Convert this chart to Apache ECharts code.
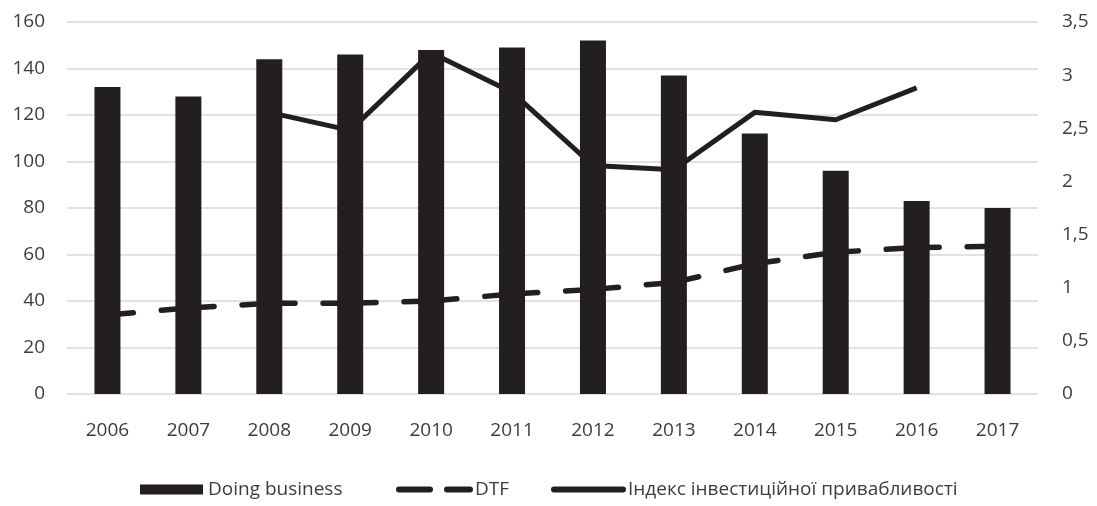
<!DOCTYPE html>
<html>
<head>
<meta charset="utf-8">
<script src="https://cdn.jsdelivr.net/npm/echarts@6/dist/echarts.min.js"></script>
<style>
  html, body { margin: 0; padding: 0; background: #ffffff; }
  #chart { width: 1097px; height: 506px; }
</style>
</head>
<body>
<div id="chart"></div>
<script>
// Years on the category axis
const years = ['2006', '2007', '2008', '2009', '2010', '2011', '2012', '2013', '2014', '2015', '2016', '2017'];
// Doing Business rank (left axis)
const doingBusiness = [132, 128, 144, 146, 148, 149, 152, 137, 112, 96, 83, 80];
// Distance to frontier score (left axis)
const dtf = [34, 37, 39, 39, 40, 43, 45, 48, 56, 61, 63, 63.5];
// Investment attractiveness index (right axis)
const investIndex = [null, null, 2.65, 2.48, 3.21, 2.84, 2.15, 2.11, 2.65, 2.58, 2.88, null];
// Tick settings
const leftTicks = { min: 0, max: 160, interval: 20 };
const rightTicks = { min: 0, max: 3.5, interval: 0.5 };

const names = ['Doing business', 'DTF', 'Індекс інвестиційної привабливості'];

const ink = '#231f20';
const textColor = '#3c3c3c';
const font = '"Open Sans", "DejaVu Sans", sans-serif';

const chart = echarts.init(document.getElementById('chart'), null, { renderer: 'canvas' });

const legendText = { color: textColor, fontFamily: font, fontSize: 19 };
// line legend entries: keep only the stroke, hide the marker dot
const hiddenDot = { color: 'rgba(0,0,0,0)', borderWidth: 0, opacity: 0 };

chart.setOption({
  animation: false,
  backgroundColor: '#ffffff',
  grid: { left: 67, right: 59, top: 22, bottom: 112 },
  legend: [
    {
      data: [names[0]], left: 140, top: 480, padding: 0, icon: 'rect',
      itemWidth: 63, itemHeight: 10, itemGap: 0, itemTextGap: 5,
      textStyle: legendText
    },
    {
      data: [names[1]], left: 396, top: 480, padding: 0,
      itemWidth: 71, itemHeight: 3, itemGap: 0, itemTextGap: 3,
      itemStyle: hiddenDot,
      lineStyle: { width: 6, type: [31, 17], dashOffset: 0, cap: 'round', color: ink },
      textStyle: legendText
    },
    {
      data: [names[2]], left: 551, top: 480, padding: 0,
      itemWidth: 69, itemHeight: 3, itemGap: 0, itemTextGap: 3,
      itemStyle: hiddenDot,
      lineStyle: { width: 6, type: 'solid', cap: 'round', color: ink },
      textStyle: legendText
    }
  ],
  xAxis: {
    type: 'category',
    data: years,
    axisLine: { show: false },
    axisTick: { show: false },
    axisLabel: { color: textColor, fontFamily: font, fontSize: 19, margin: 27 }
  },
  yAxis: [
    {
      type: 'value',
      min: leftTicks.min, max: leftTicks.max, interval: leftTicks.interval,
      axisLine: { show: false },
      axisTick: { show: false },
      axisLabel: { color: textColor, fontFamily: font, fontSize: 19, margin: 22 },
      splitLine: { lineStyle: { color: '#d9d9d9', width: 1.5 } }
    },
    {
      type: 'value',
      min: rightTicks.min, max: rightTicks.max, interval: rightTicks.interval,
      axisLine: { show: false },
      axisTick: { show: false },
      axisLabel: {
        color: textColor, fontFamily: font, fontSize: 19, margin: 24,
        formatter: v => String(v).replace('.', ',')
      },
      splitLine: { show: false }
    }
  ],
  series: [
    {
      name: names[0],
      type: 'bar',
      data: doingBusiness,
      barWidth: 26,
      itemStyle: { color: ink },
      z: 1
    },
    {
      name: names[1],
      type: 'line',
      data: dtf,
      symbol: 'none',
      lineStyle: { color: ink, width: 5.5, type: [53, 28], dashOffset: 27, cap: 'round' },
      itemStyle: { color: ink },
      z: 3
    },
    {
      name: names[2],
      type: 'line',
      yAxisIndex: 1,
      data: investIndex,
      symbol: 'none',
      connectNulls: false,
      lineStyle: { color: ink, width: 5, join: 'round' },
      itemStyle: { color: ink },
      z: 3
    }
  ]
});
</script>
</body>
</html>
